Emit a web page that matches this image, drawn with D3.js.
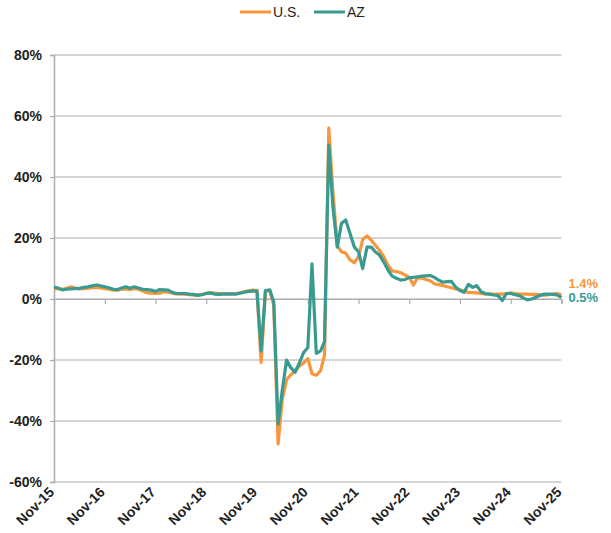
<!DOCTYPE html>
<html>
<head>
<meta charset="utf-8">
<script src="https://cdn.jsdelivr.net/npm/d3@7"></script>
<style>
  body { margin: 0; background: #fff; }
  svg { font-family: "Liberation Sans", Arial, sans-serif; }
</style>
</head>
<body>
<svg width="611" height="533"></svg>
<script>
// monthly values, Nov-15 .. Nov-25 (% change)
const usValues = [
  3.4, 3.3, 3.2, 3.5, 4.0, 3.6, 3.3, 3.4, 3.5, 3.7, 3.8, 3.6,
  3.4, 3.2, 2.9, 2.9, 3.2, 3.3, 3.1, 3.4, 3.2, 2.6, 2.0, 1.9,
  1.8, 1.9, 2.4, 2.2, 1.9, 1.7, 1.6, 1.6, 1.4, 1.3, 1.3, 1.5,
  1.9, 2.0, 1.9, 1.8, 1.8, 1.7, 1.8, 1.8, 2.0, 2.4, 2.7, 2.9,
  2.8, -20.8, 2.5, 2.8, -2.0, -47.5, -33.0, -26.5, -24.8, -23.7, -22.0, -21.0,
  -19.5, -24.5, -25.0, -23.5, -18.5, 56.0, 35.0, 17.5, 15.5, 15.0, 12.8, 11.9,
  13.9, 19.5, 20.7, 19.3, 17.7, 16.0, 13.9, 11.1, 9.2, 9.0, 8.6, 7.9,
  7.1, 4.6, 7.0, 6.8, 6.4, 6.0, 5.0, 4.7, 4.4, 4.0, 3.7, 3.3,
  3.0, 2.5, 2.2, 2.1, 2.0, 1.8, 1.6, 1.6, 1.6, 1.6, 1.6, 1.8,
  2.0, 1.8, 1.6, 1.6, 1.6, 1.5, 1.5, 1.4, 1.3, 1.4, 1.6, 1.8,
  1.4
];
const azValues = [
  3.9, 3.6, 3.0, 3.2, 3.3, 3.4, 3.5, 3.8, 4.0, 4.3, 4.6, 4.3,
  4.0, 3.7, 3.2, 3.1, 3.6, 4.0, 3.5, 4.0, 3.6, 3.2, 3.1, 2.9,
  2.5, 3.1, 3.0, 2.9, 2.2, 1.8, 1.8, 1.8, 1.6, 1.5, 1.2, 1.4,
  1.8, 2.0, 1.6, 1.5, 1.6, 1.7, 1.6, 1.6, 1.9, 2.2, 2.5, 2.6,
  2.6, -17.0, 2.8, 3.0, -1.0, -41.0, -30.0, -20.0, -22.5, -24.0, -21.0, -17.6,
  -16.0, 11.5, -17.8, -17.0, -14.0, 50.5, 30.0, 17.0, 24.8, 25.9, 21.5, 17.1,
  15.5, 10.0, 17.0, 17.0, 15.5, 14.4, 12.2, 9.5, 7.5, 6.8, 6.2, 6.4,
  7.0, 7.1, 7.3, 7.5, 7.6, 7.7, 7.1, 6.2, 5.5, 5.7, 5.8, 3.9,
  2.8, 2.2, 4.8, 3.8, 4.4, 2.4, 1.8, 1.6, 1.3, 1.1, -0.5, 1.8,
  1.8, 1.4, 1.1, 0.3, -0.3, 0.0, 0.6, 1.2, 1.6, 1.6, 1.5, 1.3,
  0.5
];
const xTickLabels = ["Nov-15", "Nov-16", "Nov-17", "Nov-18", "Nov-19", "Nov-20",
  "Nov-21", "Nov-22", "Nov-23", "Nov-24", "Nov-25"];
const yTicks = [-60, -40, -20, 0, 20, 40, 60, 80];
const seriesNames = ["U.S.", "AZ"];
const endLabels = ["1.4%", "0.5%"];

const orange = "#F7963D", teal = "#399B8F", grid = "#ABABAB";

const svg = d3.select("svg");
const plotLeft = 54, plotRight = 561.5, plotTop = 55, plotBottom = 482;

const parse = d3.timeParse("%b-%y");
const startDate = parse(xTickLabels[0]);
const dates = usValues.map((d, i) => d3.timeMonth.offset(startDate, i));

const x = d3.scaleTime()
  .domain([startDate, parse(xTickLabels[xTickLabels.length - 1])])
  .range([plotLeft, plotRight]);
const y = d3.scaleLinear().domain([-60, 80]).range([plotBottom, plotTop]);

// gridlines
svg.append("g")
  .selectAll("line")
  .data(yTicks)
  .enter()
  .append("line")
  .attr("x1", plotLeft)
  .attr("x2", plotRight)
  .attr("y1", (d) => y(d))
  .attr("y2", (d) => y(d))
  .attr("stroke", grid)
  .attr("stroke-width", 1.2);

// y axis
const yAxis = svg.append("g")
  .attr("transform", `translate(${plotLeft},0)`)
  .call(d3.axisLeft(y).tickValues(yTicks).tickSize(4).tickPadding(8).tickFormat((d) => d + "%"));
yAxis.select(".domain").attr("stroke", grid).attr("stroke-width", 1.5);
yAxis.selectAll(".tick line").attr("stroke", grid).attr("stroke-width", 1.2);
yAxis.selectAll("text")
  .attr("font-size", 14)
  .attr("font-weight", "bold")
  .attr("fill", "#222")
  .attr("font-family", "Liberation Sans, Arial, sans-serif");

// x axis on the 0% line
const xTicks = xTickLabels.map(parse);
const xAxis = svg.append("g")
  .attr("transform", `translate(0,${y(0)})`)
  .call(d3.axisBottom(x).tickValues(xTicks).tickSize(5).tickFormat(""));
xAxis.select(".domain").attr("stroke", grid).attr("stroke-width", 1.2);
xAxis.selectAll(".tick line").attr("stroke", grid).attr("stroke-width", 1.2);

// rotated labels along the bottom
svg.append("g")
  .selectAll("text")
  .data(xTicks)
  .enter()
  .append("text")
  .attr("transform", (d) => `translate(${x(d) + 1},${plotBottom + 11}) rotate(-45)`)
  .attr("text-anchor", "end")
  .attr("font-size", 14)
  .attr("font-weight", "bold")
  .attr("fill", "#222")
  .text(d3.timeFormat("%b-%y"));

// lines
const line = d3.line()
  .x((d, i) => x(dates[i]))
  .y((d) => y(d));

svg.append("path")
  .datum(usValues)
  .attr("fill", "none")
  .attr("stroke", orange)
  .attr("stroke-width", 3.2)
  .attr("stroke-linejoin", "round")
  .attr("d", line);

svg.append("path")
  .datum(azValues)
  .attr("fill", "none")
  .attr("stroke", teal)
  .attr("stroke-width", 3.2)
  .attr("stroke-linejoin", "round")
  .attr("d", line);

// end labels
svg.append("text")
  .attr("x", plotRight + 7)
  .attr("y", 288)
  .attr("font-size", 13)
  .attr("font-weight", "bold")
  .attr("fill", orange)
  .text(endLabels[0]);
svg.append("text")
  .attr("x", plotRight + 7)
  .attr("y", 302)
  .attr("font-size", 13)
  .attr("font-weight", "bold")
  .attr("fill", teal)
  .text(endLabels[1]);

// legend
const legend = svg.append("g");
const legendX = [240, 314];
const legendColors = [orange, teal];
seriesNames.forEach((name, i) => {
  legend.append("line")
    .attr("x1", legendX[i])
    .attr("x2", legendX[i] + 31)
    .attr("y1", 12)
    .attr("y2", 12)
    .attr("stroke", legendColors[i])
    .attr("stroke-width", 3);
  legend.append("text")
    .attr("x", legendX[i] + 33)
    .attr("y", 17)
    .attr("font-size", 14)
    .attr("fill", "#222")
    .text(name);
});
</script>
</body>
</html>
